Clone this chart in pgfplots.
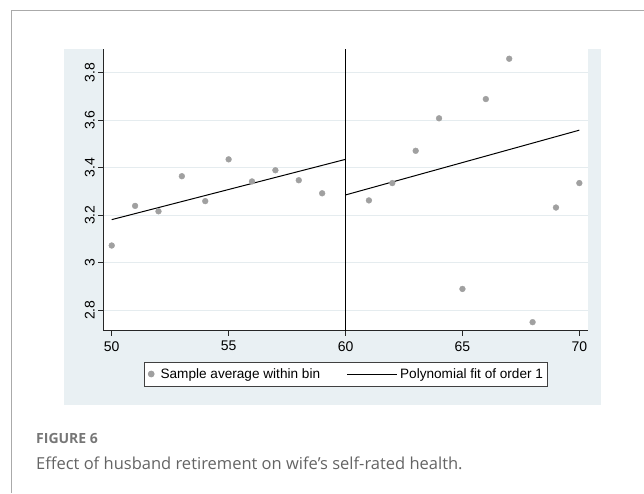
\documentclass[border=0pt]{standalone}
\usepackage{fontspec}
\setmainfont{Liberation Sans}
\newfontfamily\capfont{Open Sans}
\usepackage{pgfplots}
\pgfplotsset{compat=1.18}

\definecolor{panel}{RGB}{233,240,243}
\definecolor{gridc}{RGB}{229,236,239}
\definecolor{markgray}{RGB}{160,160,160}
\definecolor{framegray}{RGB}{170,170,170}
\definecolor{capgrayA}{RGB}{118,118,118}
\definecolor{capgrayB}{RGB}{100,100,100}

% legend symbols: a single dot, and a 50pt line
\pgfplotsset{
  dotleg/.style={legend image code/.code={\draw[##1] plot coordinates {(0pt,0pt)};}},
  lineleg/.style={legend image code/.code={\draw[##1] (0pt,0pt) -- (50pt,0pt);}},
}

% binned sample averages (age of husband, wife's self-rated health)
\pgfplotstableread{
age  srh
50   3.072
51   3.239
52   3.216
53   3.364
54   3.259
55   3.435
56   3.342
57   3.389
58   3.347
59   3.292
61   3.262
62   3.335
63   3.471
64   3.608
65   2.889
66   3.689
67   3.859
68   2.749
69   3.232
70   3.335
}\bins

\begin{document}
\begin{tikzpicture}
\path[use as bounding box] (0pt,0pt) rectangle (644pt,493pt);
% page frame (left and top rules)
\draw[framegray, line width=1pt] (11pt,0pt) -- (11pt,482pt) -- (644pt,482pt);
% graph region
\fill[panel] (64pt,88pt) rectangle (601pt,444pt);

\begin{axis}[
  at={(103.3pt,162.3pt)}, anchor=south west,
  scale only axis, width=484.7pt, height=281.7pt,
  xmin=49.64, xmax=70.37, ymin=2.713, ymax=3.9,
  axis x line*=bottom, axis y line*=left,
  axis line style={black!85, line width=0.9pt, -},
  axis background/.style={fill=white},
  xtick={50,55,60,65,70},
  ytick={2.8,3,3.2,3.4,3.6,3.8},
  ymajorgrids, grid style={gridc, line width=1pt},
  tick align=outside, major tick length=5pt,
  tick style={black!85, line width=0.9pt},
  /pgf/number format/assume math mode=true,
  tick label style={font=\fontsize{14}{16}\selectfont},
  xticklabel style={yshift=-2pt},
  yticklabel style={rotate=90, anchor=south},
  legend style={
    at={(0.5,-0.1537)}, anchor=center,
    draw=black!75, line width=0.9pt, fill=white,
    font=\fontsize{13.6}{16}\selectfont,
    inner xsep=4.2pt, inner ysep=6.3pt,
    nodes={inner sep=0pt},
    cells={anchor=west},
    /tikz/column 1/.style={column sep=6.5pt},
    /tikz/column 2/.style={column sep=26.5pt},
    /tikz/column 3/.style={column sep=2.5pt},
  },
  legend columns=2,
]
\addplot[markgray, only marks, mark=*, mark size=2.9pt,
  mark options={fill=markgray, draw=markgray}, dotleg]
  table[x=age, y=srh] {\bins};
\addlegendentry{Sample average within bin}

% linear fit below the cutoff
\addplot[black, line width=1pt, lineleg]
  coordinates {(50,3.181) (60,3.435)};
\addlegendentry{Polynomial fit of order 1\hspace{12pt}}

% linear fit above the cutoff
\addplot[black, line width=1pt, forget plot]
  coordinates {(60,3.285) (70,3.558)};

% cutoff at age 60
\addplot[black, line width=1pt, forget plot]
  coordinates {(60,2.713) (60,3.9)};
\end{axis}

\node[anchor=base west, inner sep=0pt, text=capgrayA,
  font=\capfont\bfseries\fontsize{14}{16}\selectfont]
  at (36pt,50pt) {FIGURE 6};
\node[anchor=base west, inner sep=0pt, text=capgrayB,
  font=\capfont\fontsize{16.5}{19}\selectfont]
  at (36pt,24pt) {Effect of husband retirement on wife’s self-rated health.};
\end{tikzpicture}
\end{document}
